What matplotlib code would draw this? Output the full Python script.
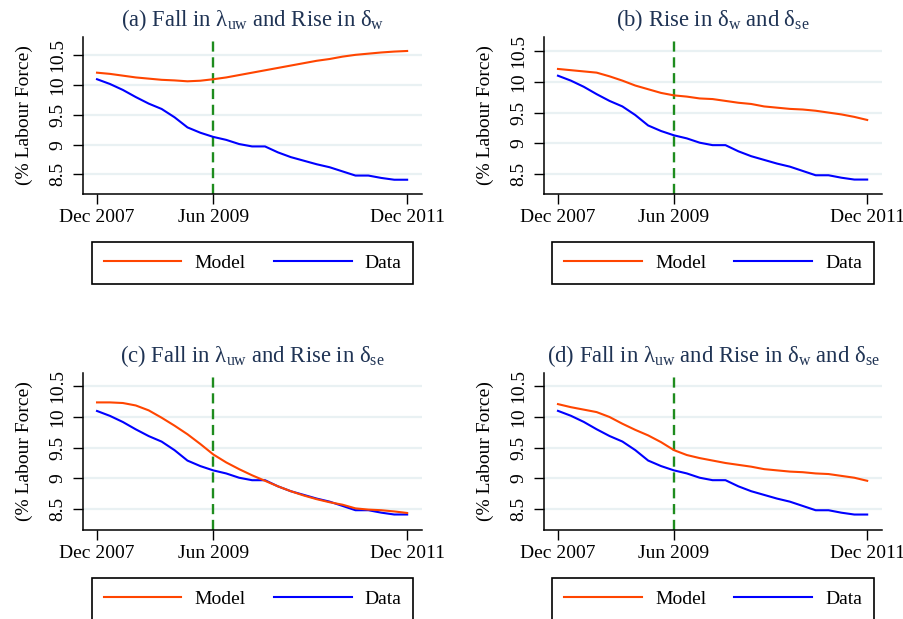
import matplotlib
matplotlib.use("Agg")
import matplotlib.pyplot as plt
import numpy as np

plt.rcParams["font.family"] = ["Liberation Serif", "DejaVu Serif"]
plt.rcParams["mathtext.fontset"] = "custom"
plt.rcParams["mathtext.rm"] = "Liberation Serif"
plt.rcParams["mathtext.it"] = "Liberation Serif:italic"

# months after Dec 2007, every second month
months = np.arange(0, 49, 2)

# unemployment data (% labour force)
data = [10.10, 10.02, 9.92, 9.80, 9.69, 9.60, 9.46, 9.29, 9.20, 9.13,
        9.08, 9.01, 8.97, 8.97, 8.87, 8.79, 8.73, 8.67, 8.62, 8.55,
        8.48, 8.48, 8.44, 8.41, 8.41]

# model paths
model_a = [10.21, 10.19, 10.16, 10.13, 10.11, 10.09, 10.08, 10.065, 10.075, 10.10,
           10.13, 10.17, 10.21, 10.25, 10.29, 10.33, 10.37, 10.41, 10.44, 10.48,
           10.51, 10.53, 10.55, 10.565, 10.575]
model_b = [10.21, 10.19, 10.17, 10.15, 10.09, 10.02, 9.94, 9.88, 9.82, 9.78,
           9.76, 9.73, 9.72, 9.69, 9.66, 9.64, 9.60, 9.58, 9.56, 9.55,
           9.53, 9.50, 9.47, 9.43, 9.38]
model_c = [10.24, 10.24, 10.23, 10.19, 10.11, 9.99, 9.86, 9.72, 9.56, 9.39,
           9.26, 9.15, 9.05, 8.96, 8.87, 8.79, 8.72, 8.66, 8.61, 8.57,
           8.51, 8.49, 8.48, 8.46, 8.435]
model_d = [10.21, 10.16, 10.12, 10.08, 10.00, 9.89, 9.79, 9.70, 9.59, 9.46,
           9.38, 9.33, 9.29, 9.25, 9.22, 9.19, 9.15, 9.13, 9.11, 9.10,
           9.08, 9.07, 9.04, 9.01, 8.96]

titles = [r"(a) Fall in λ$_{\mathrm{uw}}$ and Rise in δ$_{\mathrm{w}}$",
          r"(b) Rise in δ$_{\mathrm{w}}$ and δ$_{\mathrm{se}}$",
          r"(c) Fall in λ$_{\mathrm{uw}}$ and Rise in δ$_{\mathrm{se}}$",
          r"(d) Fall in λ$_{\mathrm{uw}}$ and Rise in δ$_{\mathrm{w}}$ and δ$_{\mathrm{se}}$"]
models = [model_a, model_b, model_c, model_d]
ylims = [(8.17, 10.81), (8.175, 10.73), (8.157, 10.72), (8.158, 10.717)]

xticks = [0, 18, 48]
xticklabels = ["Dec 2007", "Jun 2009", "Dec 2011"]
yticks = [8.5, 9, 9.5, 10, 10.5]
yticklabels = ["8.5", "9", "9.5", "10", "10.5"]

W, H = 904, 619
fig = plt.figure(figsize=(W / 100, H / 100), dpi=100)

# axes boxes in pixels: left, top, right, bottom
boxes = [(83, 37, 422, 194), (544, 37, 882, 194),
         (83, 373, 422, 530), (544, 373, 882, 530)]

title_col = "#1f3354"
grid_col = "#e9f1f3"

for i in range(4):
    l, t, r, b = boxes[i]
    ax = fig.add_axes([l / W, 1 - b / H, (r - l) / W, (b - t) / H])
    for y in yticks:
        ax.axhline(y, color=grid_col, lw=1.6, zorder=0)
    ax.axvline(18, color="#1e8c1e", lw=1.7, dashes=(4.3, 2.4), zorder=1)
    ax.plot(months, models[i], color="#ff4500", lw=1.5, label="Model", zorder=3,
            solid_joinstyle="round")
    ax.plot(months, data, color="#0000ff", lw=1.5, label="Data", zorder=2,
            solid_joinstyle="round")

    ax.set_xlim(-2.17, 50.3)
    ax.set_ylim(*ylims[i])
    ax.set_xticks(xticks)
    ax.set_xticklabels(xticklabels)
    ax.set_yticks(yticks)
    ax.set_yticklabels(yticklabels, rotation=90, va="center")
    ax.tick_params(axis="both", labelsize=14, length=7, width=1, pad=4)
    ax.tick_params(axis="y", pad=5)
    ax.spines["top"].set_visible(False)
    ax.spines["right"].set_visible(False)
    ax.spines["left"].set_linewidth(1.1)
    ax.spines["bottom"].set_linewidth(1.1)
    ax.set_ylabel("(% Labour Force)", fontsize=14, labelpad=12)
    ax.set_title(titles[i], fontsize=16.3, color=title_col, pad=8)

    leg = ax.legend(loc="upper center", bbox_to_anchor=(0.5, -0.306), ncol=2,
                    fontsize=14, frameon=True, fancybox=False, borderaxespad=0,
                    handlelength=4.0, handletextpad=0.67, columnspacing=1.45,
                    borderpad=0.62)
    leg.get_frame().set_edgecolor("black")
    leg.get_frame().set_linewidth(1.2)
    leg.get_frame().set_alpha(1)

fig.savefig("out.png", dpi=100)
